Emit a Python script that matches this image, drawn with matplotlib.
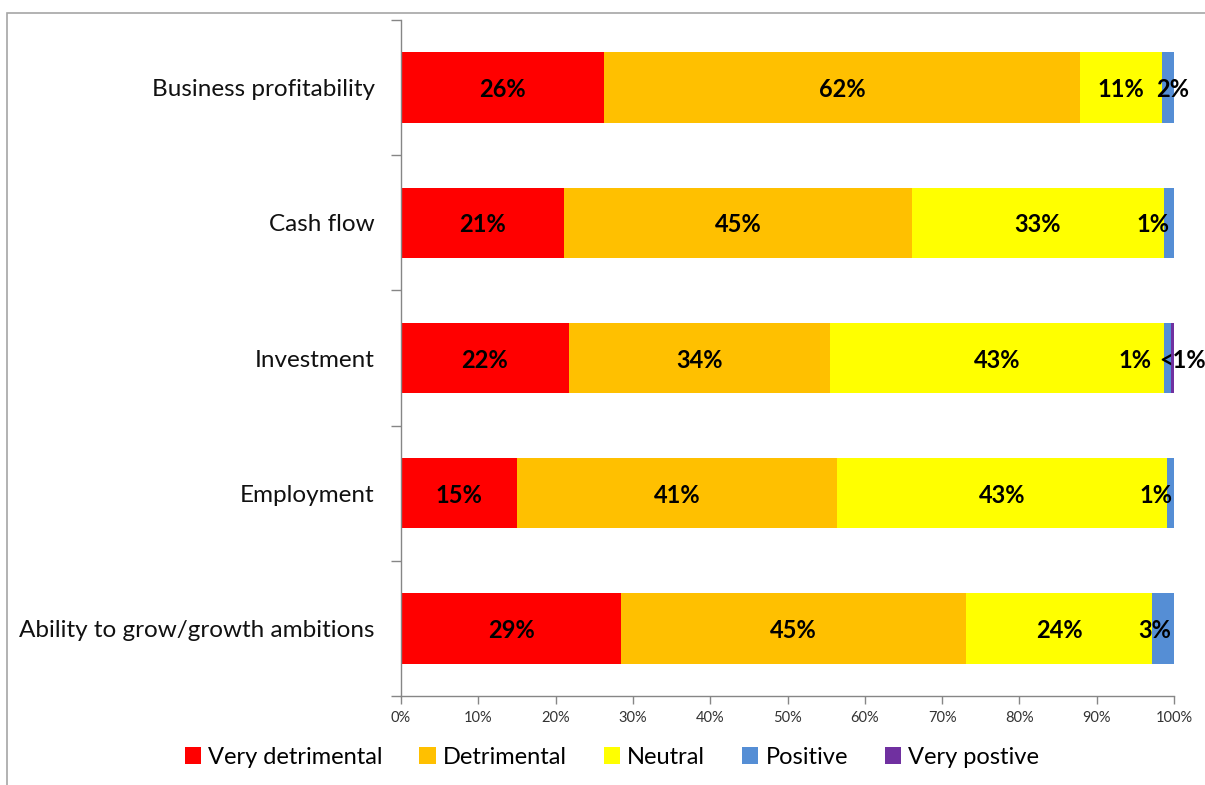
import matplotlib
matplotlib.use("Agg")
import matplotlib.pyplot as plt
from matplotlib.patches import Rectangle, Patch
import numpy as np

plt.rcParams["font.family"] = ["Lato", "DejaVu Sans"]

categories = [
    "Business profitability",
    "Cash flow",
    "Investment",
    "Employment",
    "Ability to grow/growth ambitions",
]
series_names = ["Very detrimental", "Detrimental", "Neutral", "Positive", "Very postive"]
very_detrimental = [26.3, 21.1, 21.7, 15.0, 28.5]
detrimental = [61.5, 45.0, 33.8, 41.4, 44.6]
neutral = [10.7, 32.6, 43.2, 42.7, 24.1]
positive = [1.5, 1.3, 0.9, 0.9, 2.8]
very_positive = [0.0, 0.0, 0.4, 0.0, 0.0]
x_ticks = [0, 10, 20, 30, 40, 50, 60, 70, 80, 90, 100]

colors = ["#FF0000", "#FFC000", "#FFFF00", "#558ED5", "#7030A0"]

# nudges (pixels) for the crowded labels at the right end of the bars
label_nudge = {
    (0, 3): 4,
    (1, 3): -16,
    (2, 3): -32,
    (2, 4): 10,
    (3, 3): -15,
    (4, 3): -8,
}

W, H = 1205, 785
fig = plt.figure(figsize=(W / 100, H / 100), dpi=100)

# outer chart frame
fig.patches.append(Rectangle((7 / W, -0.05), 1.2, 1 - 13 / H + 0.05,
                             transform=fig.transFigure, fill=False,
                             edgecolor="#A6A6A6", linewidth=1.2))

ax = fig.add_axes([401 / W, 1 - 696 / H, (1174 - 401) / W, (696 - 20) / H])

data = np.array([very_detrimental, detrimental, neutral, positive, very_positive])
y = np.arange(len(categories))
left = np.zeros(len(categories))
for s, (name, vals) in enumerate(zip(series_names, data)):
    ax.barh(y, vals, left=left, height=0.52, color=colors[s], label=name,
            edgecolor="none")
    for i, v in enumerate(vals):
        if v <= 0:
            continue
        txt = "<1%" if v < 0.5 else f"{int(v + 0.5)}%"
        ax.annotate(txt, (left[i] + v / 2, y[i]),
                    xytext=(label_nudge.get((i, s), 0), -2),
                    textcoords="offset pixels", ha="center", va="center",
                    fontsize=17, fontweight="bold", color="black")
    left = left + vals

ax.set_xlim(0, 100)
ax.set_ylim(len(categories) - 0.5, -0.5)

ax.set_xticks(x_ticks)
ax.set_xticklabels([f"{t}%" for t in x_ticks], fontsize=10.5, color="#333333")
ax.tick_params(axis="x", length=6, width=1, color="#868686", pad=5)

ax.set_yticks(np.arange(len(categories) + 1) - 0.5)
ax.set_yticklabels([])
ax.tick_params(axis="y", which="major", length=7, width=1, color="#868686")
ax.set_yticks(y, minor=True)
ax.set_yticklabels(categories, minor=True, fontsize=17.5, color="#111111")
ax.tick_params(axis="y", which="minor", length=0, pad=19)

for side in ["top", "right"]:
    ax.spines[side].set_visible(False)
for side in ["left", "bottom"]:
    ax.spines[side].set_color("#868686")
    ax.spines[side].set_linewidth(1)

handles = [Patch(facecolor=c, edgecolor="none") for c in colors]
fig.legend(handles, series_names, loc="center", bbox_to_anchor=(612 / W, 1 - 757 / H),
           ncol=5, frameon=False, fontsize=17, handlelength=0.7, handleheight=0.7,
           handletextpad=0.3, columnspacing=1.55, borderaxespad=0)

fig.savefig("out.png", dpi=100)
